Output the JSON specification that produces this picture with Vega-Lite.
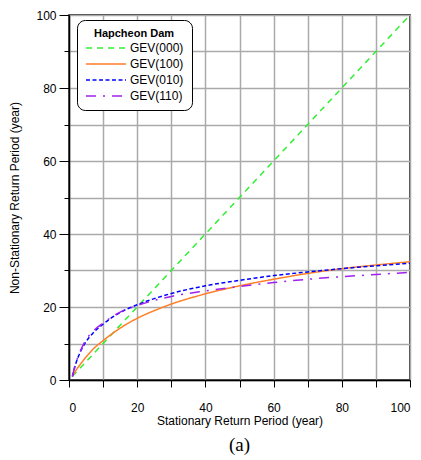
{
  "$schema": "https://vega.github.io/schema/vega-lite/v6.json",
  "autosize": {"type": "none"},
  "padding": {"left": 69, "top": 15, "right": 11, "bottom": 80},
  "width": 341,
  "height": 365,
  "title": {"text": "(a)", "orient": "bottom", "font": "Liberation Serif", "fontSize": 19, "fontWeight": "normal", "color": "#000000", "offset": 10, "anchor": "middle"},
  "config": {
    "view": {"stroke": "#000000", "strokeWidth": 1.5},
    "font": "Liberation Sans",
    "axis": {
      "domainColor": "#000000", "domainWidth": 1.5,
      "tickColor": "#000000", "tickWidth": 1,
      "gridColor": "#aaaaaa", "gridWidth": 1.5, "gridOpacity": 1,
      "labelFont": "Liberation Sans", "labelFontSize": 12, "labelColor": "#000000",
      "titleFont": "Liberation Sans", "titleFontSize": 12, "titleFontWeight": "normal", "titleColor": "#000000"
    },
    "legend": {
      "orient": "none", "legendX": 8, "legendY": 5,
      "strokeColor": "#000000", "strokeWidth": 1, "cornerRadius": 8, "fillColor": "#ffffff",
      "padding": 8,
      "titleFont": "Liberation Sans", "titleFontSize": 11, "titleFontWeight": "bold", "titleColor": "#000000",
      "titleAnchor": "middle", "titleAlign": "center", "titlePadding": 3,
      "labelFont": "Liberation Sans", "labelFontSize": 12, "labelColor": "#000000",
      "symbolType": "M-1,0L7,0", "symbolSize": 100, "symbolStrokeWidth": 1.5, "symbolFillColor": "transparent",
      "labelOffset": 33, "rowPadding": 4
    }
  },
  "data": {"values": [
    {"s": "GEV(000)", "x": 1, "y": 1}, {"s": "GEV(000)", "x": 100, "y": 100},
    {"s": "GEV(100)", "x": 1, "y": 1}, {"s": "GEV(100)", "x": 2, "y": 2.6}, {"s": "GEV(100)", "x": 3, "y": 3.9}, {"s": "GEV(100)", "x": 5, "y": 6.3}, {"s": "GEV(100)", "x": 7, "y": 8.4}, {"s": "GEV(100)", "x": 10, "y": 10.8}, {"s": "GEV(100)", "x": 15, "y": 14.2}, {"s": "GEV(100)", "x": 20, "y": 16.9}, {"s": "GEV(100)", "x": 25, "y": 19}, {"s": "GEV(100)", "x": 30, "y": 20.8}, {"s": "GEV(100)", "x": 40, "y": 23.6}, {"s": "GEV(100)", "x": 50, "y": 25.8}, {"s": "GEV(100)", "x": 60, "y": 27.6}, {"s": "GEV(100)", "x": 70, "y": 29.2}, {"s": "GEV(100)", "x": 80, "y": 30.5}, {"s": "GEV(100)", "x": 90, "y": 31.5}, {"s": "GEV(100)", "x": 100, "y": 32.4},
    {"s": "GEV(010)", "x": 1, "y": 1}, {"s": "GEV(010)", "x": 2, "y": 4.5}, {"s": "GEV(010)", "x": 3, "y": 7}, {"s": "GEV(010)", "x": 5, "y": 10.5}, {"s": "GEV(010)", "x": 7, "y": 12.8}, {"s": "GEV(010)", "x": 10, "y": 15.3}, {"s": "GEV(010)", "x": 15, "y": 18.5}, {"s": "GEV(010)", "x": 20, "y": 20.6}, {"s": "GEV(010)", "x": 25, "y": 22.3}, {"s": "GEV(010)", "x": 30, "y": 23.7}, {"s": "GEV(010)", "x": 40, "y": 25.8}, {"s": "GEV(010)", "x": 50, "y": 27.3}, {"s": "GEV(010)", "x": 60, "y": 28.6}, {"s": "GEV(010)", "x": 70, "y": 29.6}, {"s": "GEV(010)", "x": 80, "y": 30.5}, {"s": "GEV(010)", "x": 90, "y": 31.3}, {"s": "GEV(010)", "x": 100, "y": 32},
    {"s": "GEV(110)", "x": 1, "y": 1}, {"s": "GEV(110)", "x": 2, "y": 4.6}, {"s": "GEV(110)", "x": 3, "y": 7.2}, {"s": "GEV(110)", "x": 5, "y": 11}, {"s": "GEV(110)", "x": 7, "y": 13.3}, {"s": "GEV(110)", "x": 10, "y": 15.6}, {"s": "GEV(110)", "x": 15, "y": 18.6}, {"s": "GEV(110)", "x": 20, "y": 20.4}, {"s": "GEV(110)", "x": 25, "y": 21.8}, {"s": "GEV(110)", "x": 30, "y": 22.9}, {"s": "GEV(110)", "x": 40, "y": 24.4}, {"s": "GEV(110)", "x": 50, "y": 25.6}, {"s": "GEV(110)", "x": 60, "y": 26.7}, {"s": "GEV(110)", "x": 70, "y": 27.6}, {"s": "GEV(110)", "x": 80, "y": 28.3}, {"s": "GEV(110)", "x": 90, "y": 28.9}, {"s": "GEV(110)", "x": 100, "y": 29.5}
  ]},
  "mark": {"type": "line", "interpolate": "monotone", "strokeWidth": 1.5, "clip": true},
  "encoding": {
    "x": {"field": "x", "type": "quantitative", "scale": {"domain": [0, 100], "nice": false},
      "axis": {"title": "Stationary Return Period (year)", "values": [0,10,20,30,40,50,60,70,80,90,100],
        "labelExpr": "datum.value % 20 == 0 ? datum.label : ''", "tickSize": 7, "labelPadding": 15, "titlePadding": 2}},
    "y": {"field": "y", "type": "quantitative", "scale": {"domain": [0, 100], "nice": false},
      "axis": {"title": "Non-Stationary Return Period (year)", "values": [0,10,20,30,40,50,60,70,80,90,100],
        "labelExpr": "datum.value % 20 == 0 ? datum.label : ''",
        "tickSize": {"condition": {"test": "datum.value % 20 == 0", "value": 10}, "value": 5},
        "labelPadding": 3, "titlePadding": 14}},
    "color": {"field": "s", "type": "nominal", "title": "Hapcheon Dam",
      "scale": {"domain": ["GEV(000)", "GEV(100)", "GEV(010)", "GEV(110)"], "range": ["#33ee33", "#ff7f27", "#0000ff", "#a020f0"]}},
    "strokeDash": {"field": "s", "type": "nominal", "title": "Hapcheon Dam",
      "scale": {"domain": ["GEV(000)", "GEV(100)", "GEV(010)", "GEV(110)"], "range": [[6, 5], [1, 0], [4, 2.5], [10, 7, 2, 7]]}}
  }
}
